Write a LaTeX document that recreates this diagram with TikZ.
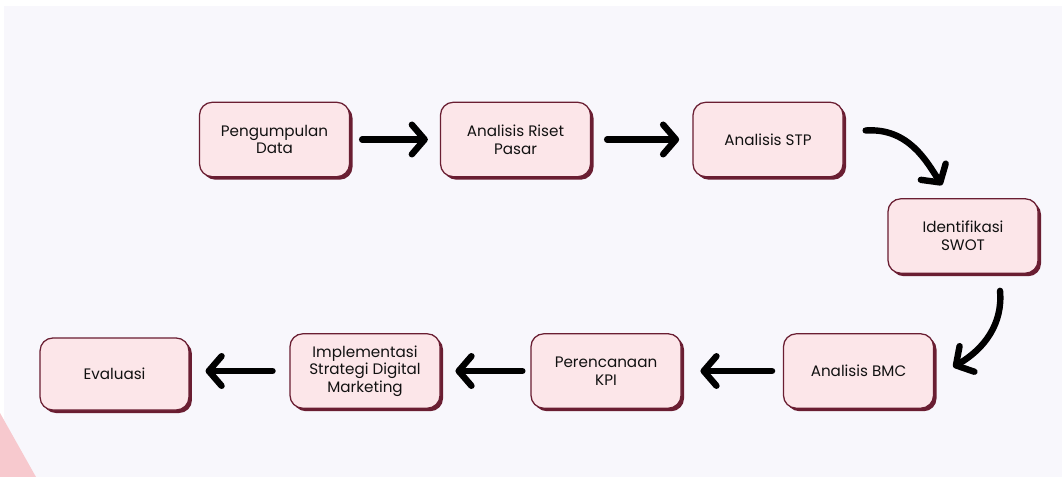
\documentclass[tikz,border=0pt]{standalone}
\usepackage{fontspec}
\setmainfont{Poppins}
\usetikzlibrary{arrows.meta,shadows,calc}
\definecolor{bgc}{HTML}{F8F7FC}
\definecolor{boxfill}{HTML}{FCE6E9}
\definecolor{boxline}{HTML}{6A1E32}
\definecolor{tri}{HTML}{F7C9CE}
\definecolor{txt}{HTML}{111111}
\tikzset{
  stepbox/.style={draw=boxline, line width=0.9pt, fill=boxfill, rounded corners=0.32cm,
    minimum width=3.75cm, minimum height=1.86cm, align=center, text=txt,
    font=\fontsize{10.8}{12.6}\selectfont,
    drop shadow={shadow xshift=0.075cm, shadow yshift=-0.075cm, fill=boxline, opacity=1}},
  brush/.style={line width=0.16cm, line cap=round, black,
    -{Straight Barb[length=0.32cm, width=0.74cm, line cap=round, line join=round]}}
}
\begin{document}
\begin{tikzpicture}[x=0.025cm, y=-0.025cm]
\useasboundingbox (0,0) rectangle (1062,477);
\fill[white] (0,0) rectangle (1062,477);
\fill[bgc] (4,6) rectangle (1062,477);
\fill[tri] (0,413) -- (36,477) -- (0,477) -- cycle;

\node[stepbox] (pd)   at (274.5,139.5) {Pengumpulan\\Data};
\node[stepbox] (rp)   at (515.5,139.5) {Analisis Riset\\Pasar};
\node[stepbox] (stp)  at (768,139.5)   {Analisis STP};
\node[stepbox] (swot) at (963,236)     {Identifikasi\\SWOT};
\node[stepbox] (bmc)  at (858.5,371)   {Analisis BMC};
\node[stepbox] (kpi)  at (606,371)     {Perencanaan\\KPI};
\node[stepbox] (impl) at (365,371)     {Implementasi\\Strategi Digital\\Marketing};
\node[stepbox, minimum width=3.72cm, minimum height=1.8cm] (eval) at (114.5,374) {Evaluasi};

\draw[brush, shorten <=0.3cm, shorten >=0.3cm] (pd) -- (rp);
\draw[brush, shorten <=0.4cm, shorten >=0.33cm] (rp) -- (stp);
\draw[brush] ($(stp.east)+(22,-9)$) .. controls ($(stp.east)+(65,-12)$) and ($(swot.north)+(-36,-36)$) .. ($(swot.north)+(-21,-13)$);
\draw[brush] ($(swot.south)+(37,17)$) .. controls ($(swot.south)+(40,50)$) and ($(bmc.east)+(50,-22)$) .. ($(bmc.east)+(19,-4)$);
\draw[brush, shorten <=0.27cm, shorten >=0.47cm] (bmc.west) -- (kpi.east);
\draw[brush, shorten <=0.2cm, shorten >=0.37cm] (kpi.west) -- (impl.east);
\draw[brush, shorten <=0.42cm, shorten >=0.4cm] (impl.west) -- (eval.east |- impl.west);
\end{tikzpicture}
\end{document}
